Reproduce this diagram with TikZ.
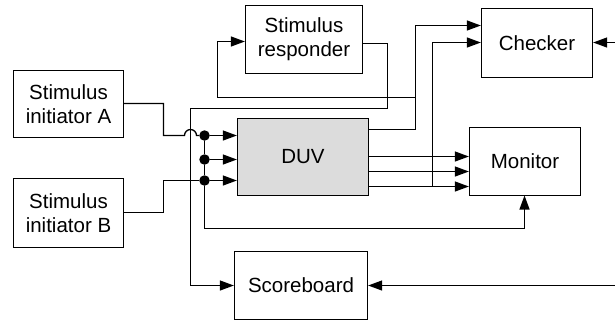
\documentclass[tikz,border=0pt]{standalone}
\usepackage{fontspec}
\setmainfont{Liberation Sans}
\usetikzlibrary{arrows.meta}
\tikzset{
  blk/.style={draw, line width=1.3bp, align=center, inner sep=0pt,
    font=\fontsize{20.5bp}{24bp}\selectfont},
  wire/.style={line width=1.3bp},
  arr/.style={wire, -{Triangle[length=14bp,width=10bp]}},
  dot/.style={fill, circle, inner sep=0pt, minimum size=10.5bp},
}
\begin{document}
\begin{tikzpicture}[x=1bp,y=-1bp]
\useasboundingbox (0,0) rectangle (615,321);
\begin{scope}[shift={(0.5,0.5)}]
% blocks
\node[blk, minimum width=110bp, minimum height=67bp] (A) at (68,103.5) {Stimulus\\initiator A};
\node[blk, minimum width=110bp, minimum height=69bp] (B) at (68,212.5) {Stimulus\\initiator B};
\node[blk, minimum width=117bp, minimum height=68bp] (R) at (303.5,39) {Stimulus\\responder};
\node[blk, minimum width=111bp, minimum height=69bp] (C) at (536.5,42.5) {Checker};
\node[blk, minimum width=111bp, minimum height=68bp] (M) at (524.5,161) {Monitor};
\node[blk, fill={rgb,255:red,220;green,220;blue,220}, minimum width=131bp, minimum height=77bp] (D) at (302.5,156.5) {DUV};
\node[blk, minimum width=133bp, minimum height=68bp] (S) at (300.5,285) {Scoreboard};
% junction dots
\node[dot] (j1) at (204,135) {};
\node[dot] (j2) at (204,159) {};
\node[dot] (j3) at (204,180) {};
% helper coordinates
\coordinate (eC) at (615,42);
\coordinate (eS) at (615,285);
\coordinate (monIn) at (524,195);
% initiator A to DUV with hop over x=190
\draw[wire] (A.east |- 0,103) -- (163,103) -- (163,135) -- (184,135) arc[start angle=180, end angle=360, radius=6] -- (j1);
\draw[arr] (j1) -- (D.west |- j1);
\draw[arr] (j2) -- (D.west |- j2);
\draw[arr] (j3) -- (D.west |- j3);
% initiator B
\draw[wire] (B.east |- 0,212) -- (163,212) -- (163,180) -- (j3);
% vertical bus to monitor
\draw[wire] (j1) -- (j2) -- (j3);
\draw[arr] (j3) -- (204,228) -- (524,228) -- (monIn);
% responder output to scoreboard
\draw[arr] (R.east |- 0,43) -- (387,43) -- (387,108) -- (190,108) -- (190,285) -- (S.west |- 0,285);
% DUV output to checker and responder input
\draw[arr] (D.east |- 0,129) -- (415,129) -- (415,25) -- (C.west |- 0,25);
\draw[arr] (415,97) -- (217,97) -- (217,41) -- (R.west |- 0,41);
% DUV to monitor
\draw[arr] (D.east |- 0,156) -- (M.west |- 0,156);
\draw[arr] (D.east |- 0,171) -- (M.west |- 0,171);
\draw[arr] (D.east |- 0,186) -- (M.west |- 0,186);
\draw[arr] (432,186) -- (432,42) -- (C.west |- 0,42);
% external inputs
\draw[arr] (eC) -- (C.east |- eC);
\draw[arr] (eS) -- (S.east |- eS);
\end{scope}
\end{tikzpicture}
\end{document}
